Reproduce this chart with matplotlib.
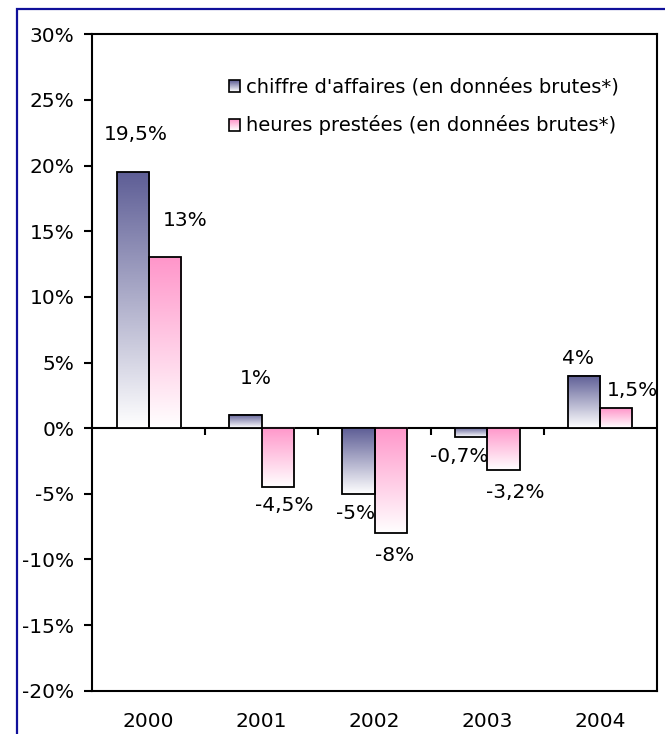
import numpy as np
import matplotlib
matplotlib.use("Agg")
import matplotlib.pyplot as plt
from matplotlib.patches import Rectangle
from matplotlib.colors import LinearSegmentedColormap
from matplotlib.legend_handler import HandlerBase

# ---- data ----
years = ["2000", "2001", "2002", "2003", "2004"]
chiffre = [19.5, 1, -5, -0.7, 4]
heures = [13, -4.5, -8, -3.2, 1.5]
series_names = ["chiffre d'affaires (en données brutes*)",
                "heures prestées (en données brutes*)"]
yticks = [-20, -15, -10, -5, 0, 5, 10, 15, 20, 25, 30]

# ---- style ----
W, H = 665, 734
colors = ["#5E5E96", "#FF96CA"]
# label offsets (pixels) from the bar end
offsets = [
    [(3, 38), (10, 37), (-3, -20), (-12, -19), (-6, 17)],
    [(20, 37), (7, -18), (4, -22), (12, -22), (16, 18)],
]
FS = 14.5
LFS = 14
plt.rcParams['font.family'] = ['DejaVu Sans']

fig = plt.figure(figsize=(W / 100, H / 100), dpi=100)
ax_l, ax_r, ax_t, ax_b = 92.3, 656.7, 34.3, 690.7
ax = fig.add_axes([ax_l / W, 1 - ax_b / H, (ax_r - ax_l) / W, (ax_b - ax_t) / H])

# outer border (navy), extends beyond image right/bottom
fig.patches.append(Rectangle((17 / W, -0.2), 2.0, 1 - 9 / H + 0.2,
                             transform=fig.transFigure, fill=False,
                             edgecolor="#10109A", lw=1.6))

x = np.arange(len(years))
bw = 0.285
ylo, yhi = yticks[0], yticks[-1]

def gradient_bar(xc, v, color, z=3):
    top, bot = max(0, v), min(0, v)
    cmap = LinearSegmentedColormap.from_list("g", ["white", color])
    grad = np.linspace(1, 0, 256)[:, None]
    ax.imshow(grad, cmap=cmap, extent=[xc - bw / 2, xc + bw / 2, bot, top],
              aspect="auto", origin="upper", zorder=z, vmin=0, vmax=1,
              interpolation="bilinear")
    ax.add_patch(Rectangle((xc - bw / 2, bot), bw, top - bot, fill=False,
                           edgecolor="black", lw=1.3, zorder=z + 0.5))

def fmt(v):
    return f"{v:g}".replace(".", ",") + "%"

for s, vals in enumerate([chiffre, heures]):
    for i, v in enumerate(vals):
        xc = x[i] + (s - 0.5) * bw
        gradient_bar(xc, v, colors[s])
        dx, dy = offsets[s][i]
        ax.annotate(fmt(v), (xc, v), xytext=(dx, dy), textcoords="offset pixels",
                    ha="center", va="center", fontsize=FS, color="black", zorder=6)

ax.set_xlim(-0.5, len(years) - 0.5)
ax.set_ylim(ylo, yhi)

# zero line with category-boundary ticks
ax.axhline(0, color="black", lw=1.5, zorder=2)
px_per_unit = (ax_b - ax_t) / (yhi - ylo)
tick_len = 7 / px_per_unit
ax.vlines(x[:-1] + 0.5, -tick_len, 0, color="black", lw=1.5, zorder=2)

ax.set_yticks(yticks)
ax.set_yticklabels([f"{t}%" for t in yticks], fontsize=FS)
ax.tick_params(axis="y", direction="out", length=6, width=1.5, pad=7)
ax.set_xticks(x)
ax.set_xticklabels(years, fontsize=FS)
ax.tick_params(axis="x", length=0, pad=15)
for sp in ax.spines.values():
    sp.set_linewidth(1.5)

# legend with gradient markers
class GradHandler(HandlerBase):
    def create_artists(self, legend, orig_handle, xdescent, ydescent,
                       width, height, fontsize, trans):
        n = 12
        arts = []
        cmap = LinearSegmentedColormap.from_list("g", ["white", orig_handle.get_facecolor()])
        for k in range(n):
            r = Rectangle((-xdescent, -ydescent + height * k / n), width, height / n,
                          facecolor=cmap(k / (n - 1)), edgecolor="none", transform=trans)
            arts.append(r)
        arts.append(Rectangle((-xdescent, -ydescent), width, height, fill=False,
                              edgecolor="black", lw=1.2, transform=trans))
        return arts

handles = [Rectangle((0, 0), 1, 1, facecolor=c) for c in colors]
leg = ax.legend(handles, series_names, handler_map={Rectangle: GradHandler()},
                loc="upper left",
                bbox_to_anchor=((229 - ax_l) / (ax_r - ax_l), 1 - (78 - ax_t) / (ax_b - ax_t)),
                frameon=False, fontsize=LFS, handlelength=0.58, handleheight=0.58,
                handletextpad=0.3, labelspacing=0.95, borderpad=0, borderaxespad=0)

fig.savefig("out.png", dpi=100)
